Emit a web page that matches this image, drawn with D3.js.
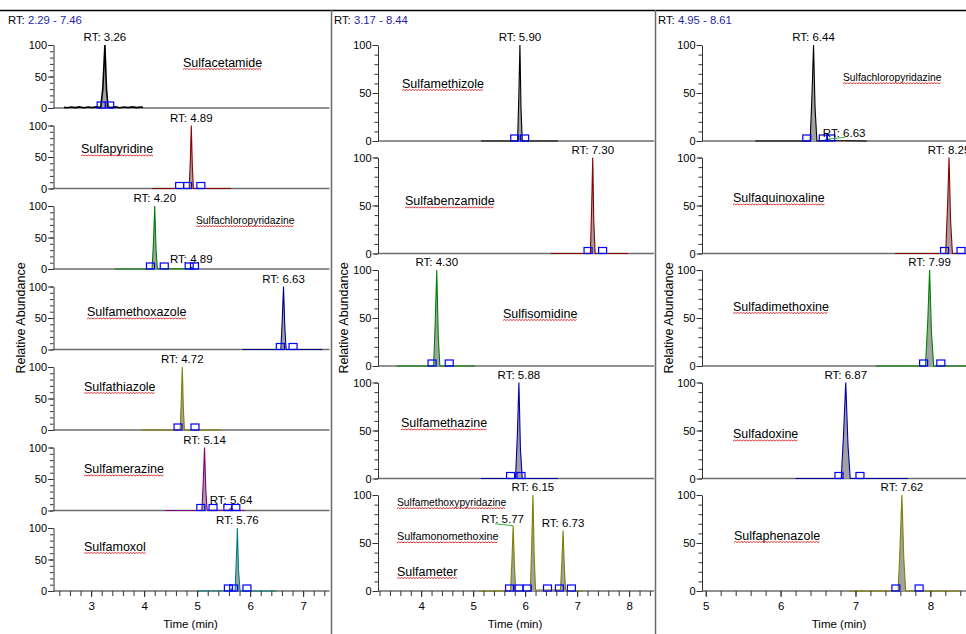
<!DOCTYPE html>
<html><head><meta charset="utf-8">
<script src="https://cdn.jsdelivr.net/npm/d3@7"></script>
<style>body{margin:0;background:#fff;} svg{display:block;font-family:"Liberation Sans",Arial,sans-serif;}</style>
</head><body><svg id="c" width="966" height="634"></svg>
<script>
// ---------------- DATA ----------------
const rtRanges = [[2.29, 7.46], [3.17, 8.44], [4.95, 8.61]];

const compoundNames = [
  [["Sulfacetamide"], ["Sulfapyridine"], ["Sulfachloropyridazine"], ["Sulfamethoxazole"], ["Sulfathiazole"], ["Sulfamerazine"], ["Sulfamoxol"]],
  [["Sulfamethizole"], ["Sulfabenzamide"], ["Sulfisomidine"], ["Sulfamethazine"], ["Sulfamethoxypyridazine", "Sulfamonomethoxine", "Sulfameter"]],
  [["Sulfachloropyridazine"], ["Sulfaquinoxaline"], ["Sulfadimethoxine"], ["Sulfadoxine"], ["Sulfaphenazole"]]
];

const traceColors = [
  ["#000000", "#8b0000", "#008000", "#000080", "#808000", "#800080", "#008080"],
  ["#000000", "#8b0000", "#008000", "#0000a8", "#808000"],
  ["#000000", "#8b0000", "#008000", "#0000a8", "#808000"]
];

// chromatogram traces: [time (min), relative abundance]
const tracesPanel1 = [
  [[2.49,1],[2.55,0.4],[2.62,1.6],[2.7,0.6],[2.78,1.8],[2.86,0.5],[2.94,1.5],[3.02,0.7],[3.1,1.7],[3.18,0.8],[3.22,30],[3.26,100],[3.29,30],[3.32,1.5],[3.38,0.6],[3.46,1.7],[3.54,0.5],[3.62,1.6],[3.7,0.7],[3.78,1.8],[3.86,0.6],[3.93,1.5],[3.98,1]],
  [[4.15,0],[4.85,0],[4.87,40],[4.89,100],[4.91,35],[4.93,0],[5.64,0]],
  [[3.45,0],[4.15,0],[4.175,40],[4.20,100],[4.225,30],[4.25,0.5],[4.85,0.5],[4.89,3],[4.93,0.5],[4.95,0]],
  [[5.85,0],[6.58,0],[6.605,45],[6.63,100],[6.655,35],[6.68,0],[7.36,0]],
  [[3.96,0],[4.68,0],[4.70,45],[4.72,100],[4.74,35],[4.76,0],[5.45,0]],
  [[4.40,0],[5.09,0],[5.115,45],[5.14,100],[5.165,30],[5.19,0.5],[5.60,0.5],[5.64,4],[5.68,0.5],[5.90,0]],
  [[5.00,0],[5.62,0.5],[5.65,3],[5.68,0.5],[5.715,0],[5.74,50],[5.76,100],[5.78,35],[5.81,0],[6.49,0]]
];
const tracesPanel2 = [
  [[5.15,0],[5.855,0],[5.88,50],[5.90,100],[5.92,35],[5.945,0],[6.63,0]],
  [[6.49,0],[7.255,0],[7.28,50],[7.30,100],[7.32,35],[7.345,0],[7.98,0]],
  [[3.53,0],[4.24,0],[4.27,45],[4.30,100],[4.33,30],[4.36,0],[5.03,0]],
  [[5.15,0],[5.815,0],[5.85,45],[5.88,100],[5.91,30],[5.945,0],[6.63,0]],
  [[5.12,0],[5.72,0],[5.745,30],[5.77,68],[5.795,25],[5.82,0],[6.10,0],[6.125,45],[6.15,100],[6.175,35],[6.20,1],[6.68,1],[6.705,28],[6.73,63],[6.755,22],[6.78,0],[7.12,0]]
];
const tracesPanel3 = [
  [[5.66,0],[6.395,0],[6.42,50],[6.44,100],[6.46,35],[6.485,0],[6.59,0.5],[6.63,2],[6.67,0.5],[7.15,0]],
  [[7.53,0],[8.205,0],[8.23,50],[8.25,100],[8.27,35],[8.295,0],[9.0,0]],
  [[7.27,0],[7.935,0],[7.965,45],[7.99,100],[8.015,35],[8.045,0],[8.76,0]],
  [[6.20,0],[6.81,0],[6.84,45],[6.87,100],[6.90,35],[6.93,0],[7.70,0]],
  [[6.92,0],[7.57,0],[7.595,45],[7.62,100],[7.645,35],[7.67,0],[8.40,0]]
];
const traces = [tracesPanel1, tracesPanel2, tracesPanel3];

// peak boundary markers (time)
const boundaries = [
  [[3.19,3.35],[4.67,4.82,5.07],[4.12,4.38,4.85,4.95],[6.57,6.81],[4.64,4.96],[5.07,5.30,5.58,5.73],[5.59,5.69,5.94]],
  [[5.80,5.99],[7.21,7.49],[4.21,4.54],[5.72,5.92],[5.70,5.88,6.04,6.43,6.66,6.89]],
  [[6.35,6.57,6.67],[8.19,8.41],[7.91,8.14],[6.78,7.06],[7.54,7.85]]
];

// labelled peaks: [RT, apex height]
const rtPeaks = [
  [[[3.26,100]],[[4.89,100]],[[4.20,100],[4.89,3]],[[6.63,100]],[[4.72,100]],[[5.14,100],[5.64,4]],[[5.76,100]]],
  [[[5.90,100]],[[7.30,100]],[[4.30,100]],[[5.88,100]],[[6.15,100],[5.77,68],[6.73,63]]],
  [[[6.44,100],[6.63,2]],[[8.25,100]],[[7.99,100]],[[6.87,100]],[[7.62,100]]]
];

// ---------------- LAYOUT ----------------
const W = 966, H = 634;
const panelLeft = [53.5, 378, 702];
const plotW = 274;
const rowTop0 = 45;
const rowStep = [80.5, 112.5, 112.5];
const rowH = [63, 96, 96];
const rangeLabelX = [8, 334, 658];
const yTitleX = [21, 344, 668.5];
// compound name placement: [left x, center offset from row top, font size]
const nameLayout = [
  [[[183,17,12.5]],[[81,23,12.5]],[[196,14,10.3]],[[87,25,12.5]],[[84,19,12.5]],[[84,21,12.5]],[[84,18,12.5]]],
  [[[402,38,12.5]],[[405,43,12.5]],[[503,43,12.5]],[[401,40,12.5]],[[397,7,10.3],[397,41,10.8],[397,76,12.5]]],
  [[[843,32,10.3]],[[733,40,12.5]],[[733,36,12.5]],[[733,51,12.5]],[[734,40,12.5]]]
];
// shifted RT labels with leader lines: key "panel-row-peak"
const leaderLabels = {"1-4-1": {dx: -10.5, dy: -3, lx: -7.5, ly: 1}, "2-0-1": {dx: 16.4, dy: -2.3, lx: 1, ly: 0.5}};

// ---------------- DRAW ----------------
const svg = d3.select("#c");
const defs = svg.append("defs");

svg.append("line").attr("x1", 0).attr("x2", W).attr("y1", 10.5).attr("y2", 10.5)
  .attr("stroke", "#000").attr("stroke-width", 1.3);
[331.5, 655.5].forEach(xx => svg.append("line").attr("x1", xx).attr("x2", xx).attr("y1", 10).attr("y2", H)
  .attr("stroke", "#6a6a6a").attr("stroke-width", 1.5));

function squiggle(g, x0, x1, yb) {
  let d = `M${x0},${yb}`;
  let up = true;
  for (let xx = x0 + 1.5; xx <= x1; xx += 1.5) { d += `L${xx},${yb + (up ? -1 : 0)}`; up = !up; }
  g.append("path").attr("d", d).attr("fill", "none").attr("stroke", "#e02020").attr("stroke-width", 0.9);
}

rtRanges.forEach((dom, p) => {
  const x = d3.scaleLinear().domain(dom).range([panelLeft[p], panelLeft[p] + plotW]);
  const g = svg.append("g");
  const clipId = "clip" + p;
  defs.append("clipPath").attr("id", clipId).append("rect")
    .attr("x", panelLeft[p]).attr("y", 0).attr("width", plotW + 2).attr("height", H);

  const rl = g.append("text").attr("x", rangeLabelX[p]).attr("y", 24).attr("font-size", 11.3);
  rl.append("tspan").attr("fill", "#000").text("RT: ");
  rl.append("tspan").attr("fill", "#1f1fa8").text(dom[0].toFixed(2) + " - " + dom[1].toFixed(2));

  const nRows = traces[p].length;
  traces[p].forEach((tr, r) => {
    const top = rowTop0 + r * rowStep[p];
    const y = d3.scaleLinear().domain([0, 100]).range([top + rowH[p], top]);
    const rg = g.append("g");

    // baseline (x axis line)
    rg.append("line").attr("x1", panelLeft[p]).attr("x2", panelLeft[p] + plotW + 2)
      .attr("y1", y(0)).attr("y2", y(0)).attr("stroke", "#6e6e6e").attr("stroke-width", 1.3);

    // y axis: minor and major ticks
    const minorAx = d3.axisLeft(y).tickValues(d3.range(0, 101, 10)).tickSize(3.5).tickSizeOuter(0).tickFormat("");
    const ma = rg.append("g").attr("transform", `translate(${panelLeft[p]},0)`).call(minorAx);
    ma.select(".domain").remove();
    ma.selectAll("line").attr("stroke", "#333");
    const majorAx = d3.axisLeft(y).tickValues([0, 50, 100]).tickSize(5.5).tickSizeOuter(0).tickPadding(1);
    const Ma = rg.append("g").attr("transform", `translate(${panelLeft[p]},0)`).call(majorAx);
    Ma.select(".domain").attr("stroke", "#333");
    Ma.selectAll("line").attr("stroke", "#333");
    Ma.selectAll("text").attr("font-size", 11).attr("font-family", "Liberation Sans, Arial, sans-serif").attr("fill", "#000");

    // trace
    const cg = rg.append("g").attr("clip-path", `url(#${clipId})`);
    const area = d3.area().x(d => x(d[0])).y0(y(0)).y1(d => y(d[1]));
    const line = d3.line().x(d => x(d[0])).y(d => y(d[1]));
    cg.append("path").attr("d", area(tr)).attr("fill", "#a2a2a2");
    cg.append("path").attr("d", line(tr)).attr("fill", "none")
      .attr("stroke", traceColors[p][r]).attr("stroke-width", p === 0 && r === 0 ? 1.6 : 1.1);

    // boundary markers
    cg.selectAll("rect.bm").data(boundaries[p][r]).join("rect").attr("class", "bm")
      .attr("x", d => x(d) - 4).attr("y", y(0) - 6).attr("width", 8).attr("height", 6)
      .attr("fill", "none").attr("stroke", "#0000ff").attr("stroke-width", 1.2);

    // RT labels
    rtPeaks[p][r].forEach((pk, k) => {
      const key = `${p}-${r}-${k}`;
      const lay = leaderLabels[key];
      const px = x(pk[0]), py = y(pk[1]);
      if (lay) {
        const lxp = px + lay.dx, lyp = py + lay.dy;
        rg.append("line").attr("x1", px).attr("y1", py).attr("x2", lxp + lay.lx).attr("y2", lyp + lay.ly)
          .attr("stroke", "#3cb040").attr("stroke-width", 1);
        rg.append("text").attr("x", lxp).attr("y", lyp).attr("text-anchor", "middle")
          .attr("font-size", 11.5).text("RT: " + pk[0].toFixed(2));
      } else {
        rg.append("text").attr("x", px).attr("y", py - 4).attr("text-anchor", "middle")
          .attr("font-size", 11.5).text("RT: " + pk[0].toFixed(2));
      }
    });

    // compound names with spell-check underline
    compoundNames[p][r].forEach((nm, k) => {
      const L = nameLayout[p][r][k];
      const fs = L[2];
      const yb = top + L[1] + fs * 0.36;
      const t = rg.append("text").attr("x", L[0]).attr("y", yb).attr("font-size", fs).text(nm);
      const w = t.node().getComputedTextLength();
      squiggle(rg, L[0], L[0] + w, yb + 3);
    });

    // bottom axis
    if (r === nRows - 1) {
      const minorX = d3.range(Math.ceil(dom[0] * 5), Math.floor(dom[1] * 5) + 1).map(k => k / 5);
      const xm = rg.append("g").attr("transform", `translate(0,${y(0)})`)
        .call(d3.axisBottom(x).tickValues(minorX).tickSize(5).tickSizeOuter(0).tickFormat(""));
      xm.select(".domain").remove();
      xm.selectAll("line").attr("stroke", "#333");
      const majorX = d3.range(Math.ceil(dom[0]), Math.floor(dom[1]) + 1);
      const xM = rg.append("g").attr("transform", `translate(0,${y(0)})`)
        .call(d3.axisBottom(x).tickValues(majorX).tickSize(6).tickSizeOuter(0).tickPadding(5).tickFormat(d3.format("d")));
      xM.select(".domain").remove();
      xM.selectAll("line").attr("stroke", "#333");
      xM.selectAll("text").attr("font-size", 11.5).attr("font-family", "Liberation Sans, Arial, sans-serif").attr("fill", "#000");
      g.append("text").attr("x", panelLeft[p] + plotW / 2).attr("y", 628).attr("text-anchor", "middle")
        .attr("font-size", 11.5).text("Time (min)");
    }
  });

  g.append("text").attr("transform", `translate(${yTitleX[p]},318) rotate(-90)`)
    .attr("text-anchor", "middle").attr("dy", "0.35em").attr("font-size", 12.5).text("Relative Abundance");
});
</script>
</body></html>
